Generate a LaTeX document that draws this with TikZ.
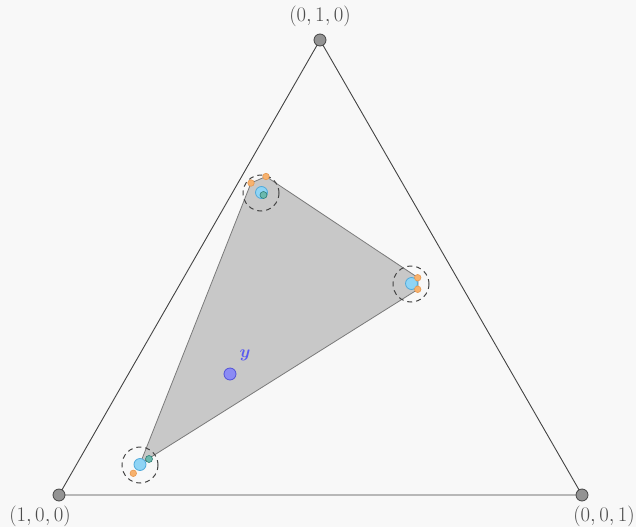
\documentclass[tikz,border=0pt]{standalone}
\usepackage{amsmath}
\usepackage{amssymb}
\usepackage{bm}
\usepackage{tikz}
\usetikzlibrary{positioning}

\definecolor{bgcol}{HTML}{F8F8F8}
\definecolor{edgecol}{HTML}{444444}
\definecolor{hullfill}{HTML}{C8C8C8}
\definecolor{hullline}{HTML}{7A7A7A}
\definecolor{skyfill}{HTML}{8FD4F5}
\definecolor{skyline}{HTML}{4FA9DA}
\definecolor{orfill}{HTML}{F7B26E}
\definecolor{orline}{HTML}{E8994F}
\definecolor{tealfill}{HTML}{6CB9AE}
\definecolor{tealline}{HTML}{2E7D74}
\definecolor{ycol}{HTML}{5A5AF0}

\begin{document}
\begin{tikzpicture}[
    x=1pt,y=-1pt,
    vertex/.style={circle, draw=edgecol, fill=gray!85, line width=0.8pt,
      minimum size=12pt, inner sep=0pt},
    corner/.style={font=\fontsize{21}{24}\selectfont, text=black!70, inner sep=0pt},
    center/.style={circle, draw=skyline, fill=skyfill, line width=0.8pt,
      minimum size=12pt, inner sep=0pt},
    sample/.style={circle, draw=orline, fill=orfill, line width=0.6pt,
      minimum size=6.5pt, inner sep=0pt},
    inner/.style={circle, draw=tealline, fill=tealfill, line width=0.6pt,
      minimum size=7pt, inner sep=0pt},
    ball/.style={draw=edgecol, line width=1pt, dash pattern=on 5pt off 4pt},
    simplex/.style={draw=edgecol, line width=0.9pt},
    hull/.style={fill=hullfill, draw=hullline, line width=0.8pt, line join=round}
  ]
    \fill[bgcol] (0,0) rectangle (636,527);
    \useasboundingbox (0,0) rectangle (636,527);

    % simplex corners
    \coordinate (c010) at (320,40);
    \coordinate (c100) at (59,495);
    \coordinate (c001) at (582,495);
    \draw[simplex] (c100) -- (c010) -- (c001) -- cycle;

    % convex hull of the samples
    \draw[hull] (251,183) -- (266,176.5) -- (418,277.7) -- (418,289.3)
      -- (140,464) -- cycle;

    % uncertainty balls
    \draw[ball] (261,193) circle (18);
    \draw[ball] (411,284) circle (18);
    \draw[ball] (140,465) circle (18);

    \node[center] (m1) at (261.5,192.5) {};
    \node[center] (m2) at (411.5,283.5) {};
    \node[center] (m3) at (140,464.5) {};
    \node[inner] (t1) at (263.5,195) {};
    \node[inner] (t3) at (149,459) {};
    \node[sample] (s1a) at (251,183) {};
    \node[sample] (s1b) at (266,176.5) {};
    \node[sample] (s2a) at (417.7,277.7) {};
    \node[sample] (s2b) at (417.7,289.3) {};
    \node[sample] (s3a) at (133.3,473.3) {};

    % query point
    \node[circle, draw=ycol!90!black, fill=ycol!70, line width=0.8pt,
      minimum size=12pt, inner sep=0pt] (y) at (230,374) {};
    \node[text=ycol, font=\fontsize{19}{22}\selectfont] (ylab) at (245,355) {$\bm{y}$};

    \node[vertex] (v010) at (c010) {};
    \node[vertex] (v100) at (c100) {};
    \node[vertex] (v001) at (c001) {};
    \node[corner] (l010) at (320,16) {$(0,1,0)$};
    \node[corner] (l100) at (40,516) {$(1,0,0)$};
    \node[corner] (l001) at (604,516) {$(0,0,1)$};
  \end{tikzpicture}
\end{document}
